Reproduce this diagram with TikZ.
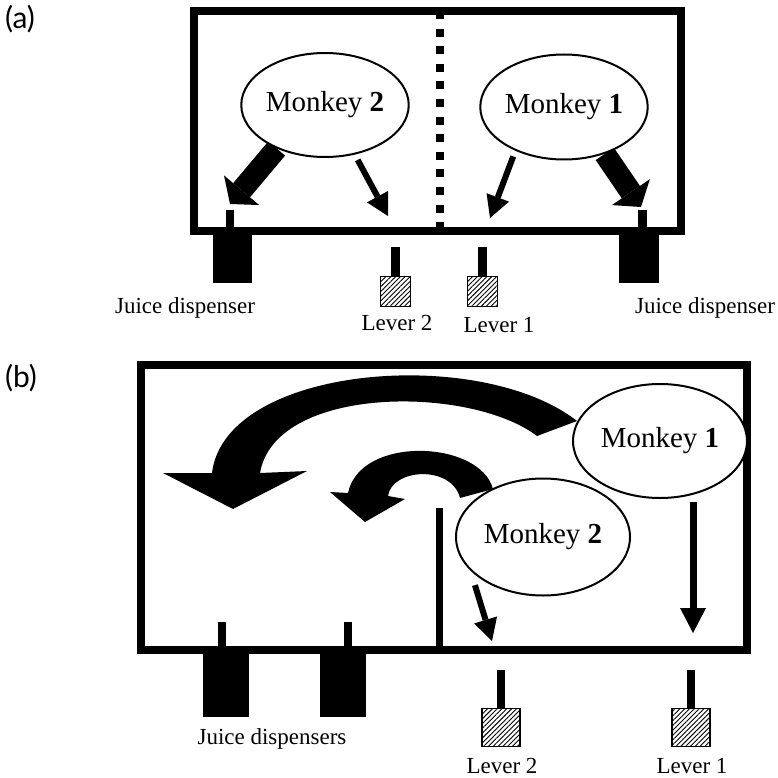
\documentclass[tikz,border=0pt]{standalone}
\usepackage{fontspec}
\setmainfont{Liberation Serif}
\newfontfamily\panelsans{Lato}
\usetikzlibrary{arrows.meta,shapes.geometric,patterns.meta,backgrounds}
\begin{document}
\begin{tikzpicture}[x=1pt,y=-1pt,
  wall/.style={line width=8pt},
  monkey/.style={ellipse,draw,line width=2pt,fill=white,inner sep=0pt,font=\fontsize{29}{32}\selectfont},
  lbl/.style={font=\fontsize{23}{26}\selectfont,anchor=base,inner sep=0pt},
  panel/.style={font=\panelsans\fontsize{30}{32}\selectfont,inner sep=0pt},
  thinarrow/.style={line width=6pt,-{Triangle[width=24pt,length=22pt,line width=0pt]}},
  fatarrow/.style={line width=22pt,-{Triangle[width=46pt,length=18pt,line width=0pt]}},
  dispbox/.style={fill=black,inner sep=0pt,anchor=north},
  stem/.style={line width=8.5pt},
  leverbox/.style={draw,line width=1.3pt,inner sep=0pt,anchor=north,
    pattern={Lines[angle=45,distance=3.4pt,line width=0.9pt]}},
]
\useasboundingbox (0,0) rectangle (778,778);

% ---------------- panel (a) ----------------
\node[panel] (pa) at (20,19) {(a)};
\draw[wall] (194,11) rectangle (681,231);
\draw[line width=8pt,dash pattern=on 8pt off 9.6pt] (440,11) -- (440,231);

\node[monkey,minimum width=146pt,minimum height=104pt] (m2a) at (325,105) {Monkey \textbf{2}};
\node[monkey,minimum width=148pt,minimum height=105pt] (m1a) at (564,107) {Monkey \textbf{1}};

\coordinate (tA2big) at (230,204);
\coordinate (tA2thin) at (388,216);
\coordinate (tA1thin) at (490,218);
\coordinate (tA1big) at (641,207);
\begin{pgfonlayer}{background}
\draw[fatarrow] (m2a.222) -- (tA2big);
\draw[fatarrow] (m1a.311) -- (tA1big);
\end{pgfonlayer}
\draw[thinarrow,shorten <=6pt] (m2a.301) -- (tA2thin);
\draw[thinarrow,shorten <=6pt] (m1a.222) -- (tA1thin);

% juice dispensers (a)
\node[dispbox,minimum width=39pt,minimum height=52pt] (jd2a) at (232.5,231) {};
\node[dispbox,minimum width=40pt,minimum height=52pt] (jd1a) at (639,231) {};
\draw[stem] (230,210) -- (230,233);
\draw[stem] (642.5,210) -- (642.5,233);
\node[lbl] (ljd2a) at (185,313) {Juice dispenser};
\node[lbl] (ljd1a) at (705,313) {Juice dispenser};

% levers (a)
\node[leverbox,minimum size=30pt] (lv2a) at (395.5,276) {};
\node[leverbox,minimum size=30pt] (lv1a) at (482.5,276) {};
\draw[stem] (395.5,247) -- (lv2a.north);
\draw[stem] (482.5,247) -- (lv1a.north);
\node[lbl] (llv2a) at (397,330) {Lever 2};
\node[lbl] (llv1a) at (499,332) {Lever 1};

% ---------------- panel (b) ----------------
\node[panel] (pb) at (21,378) {(b)};
\draw[wall] (141,365) rectangle (747,650);
\draw[line width=7pt] (439,508) -- (439,650);

\node[monkey,minimum width=174pt,minimum height=114pt] (m1b) at (660,441) {Monkey \textbf{1}};
\node[monkey,minimum width=174pt,minimum height=117pt] (m2b) at (543,537) {Monkey \textbf{2}};

\begin{pgfonlayer}{background}
% big curved arrow from Monkey 1
\fill (577,421) .. controls (480,345) and (225,365) .. (212,473)
  -- (163,473) -- (233,509) -- (307,471) -- (260,473)
  .. controls (275,385) and (470,385) .. (537,436) -- cycle;
% small curved arrow from Monkey 2
\fill (493,489) .. controls (480,440) and (360,435) .. (348,493)
  -- (330,492) -- (365,522) -- (405,499) -- (388,496)
  .. controls (392,468) and (452,465) .. (460,498) -- cycle;
\end{pgfonlayer}

\coordinate (tB1) at (693,633);
\coordinate (tB2) at (492,641);
\draw[thinarrow,line width=7pt,-{Triangle[width=26pt,length=25pt,line width=0pt]},shorten <=3pt] (m1b.south -| tB1) -- (tB1);
\draw[thinarrow,shorten <=15pt] (m2b.205) -- (tB2);

% juice dispensers (b)
\node[dispbox,minimum width=46pt,minimum height=67pt] (jd1b) at (226,650) {};
\node[dispbox,minimum width=46pt,minimum height=67pt] (jd2b) at (343,650) {};
\draw[stem] (222,622) -- (222,652);
\draw[stem] (348,622) -- (348,652);
\node[lbl] (ljdb) at (272,744) {Juice dispensers};

% levers (b)
\node[leverbox,minimum size=38pt] (lv2b) at (501,708) {};
\node[leverbox,minimum size=38pt] (lv1b) at (691,708) {};
\draw[stem] (501,670) -- (lv2b.north);
\draw[stem] (691,670) -- (lv1b.north);
\node[lbl] (llv2b) at (502,773) {Lever 2};
\node[lbl] (llv1b) at (692,773) {Lever 1};
\end{tikzpicture}
\end{document}
